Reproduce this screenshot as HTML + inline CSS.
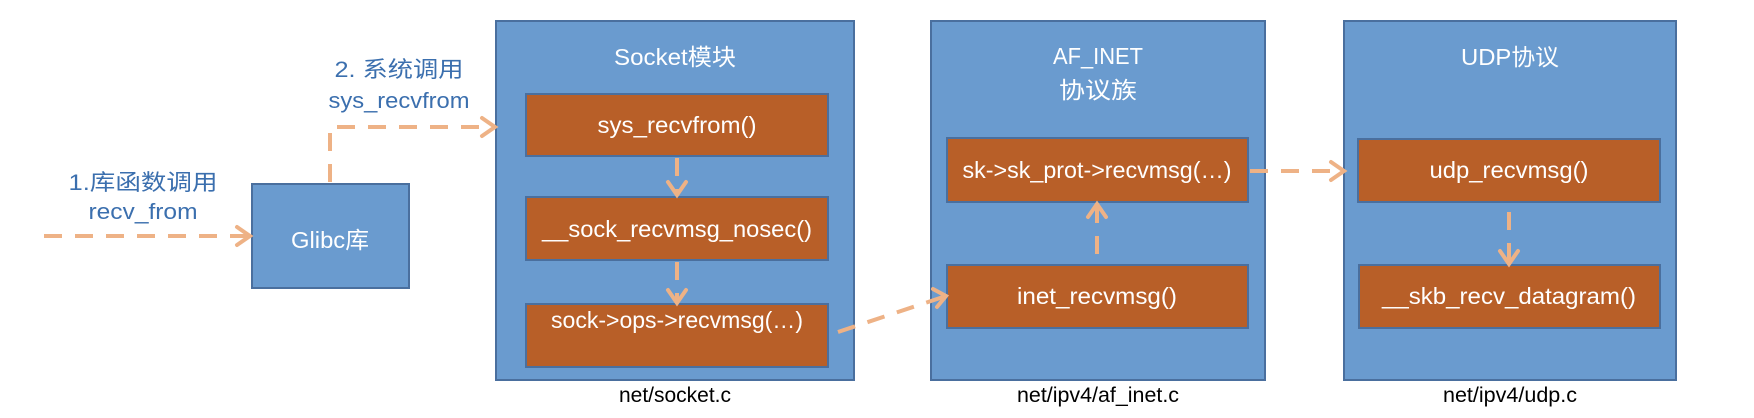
<!DOCTYPE html>
<html><head><meta charset="utf-8"><style>
html,body{margin:0;padding:0;background:#fff;width:1754px;height:418px;overflow:hidden}
text{font-family:"Liberation Sans","Noto Sans CJK SC",sans-serif}
</style></head><body>
<svg width="1754" height="418" viewBox="0 0 1754 418" xmlns="http://www.w3.org/2000/svg">
<g stroke="#4a6f9e" stroke-width="2">
<rect x="252" y="184" width="157" height="104" fill="#6a9bcf"/>
<rect x="496" y="21" width="358" height="359" fill="#6a9bcf"/>
<rect x="931" y="21" width="334" height="359" fill="#6a9bcf"/>
<rect x="1344" y="21" width="332" height="359" fill="#6a9bcf"/>
<g fill="#b85f28">
<rect x="526" y="94" width="302" height="62"/>
<rect x="526" y="197" width="302" height="63"/>
<rect x="526" y="304" width="302" height="63"/>
<rect x="947" y="138" width="301" height="64"/>
<rect x="947" y="265" width="301" height="63"/>
<rect x="1358" y="139" width="302" height="63"/>
<rect x="1359" y="265" width="301" height="63"/>
</g></g>
<g fill="none" stroke="#eeb286" stroke-width="4" stroke-dasharray="18,13">
<path d="M44 236 H248"/>
<path d="M330 182 V127 H492"/>
<path d="M677 158 V194"/>
<path d="M677 262 V300"/>
<path d="M838 332 L943 297"/>
<path d="M1097 254 V206"/>
<path d="M1250 171 H1340"/>
<path d="M1509 212 V262"/>
</g>
<g fill="none" stroke="#eeb286" stroke-width="4" stroke-linecap="round">
<path d="M237 227 L250 236 L237 245"/>
<path d="M482 118 L495 127 L482 136"/>
<path d="M668 182 L677 195 L686 182"/>
<path d="M668 290 L677 303 L686 290"/>
<path d="M933 289 L946 296 L937 307"/>
<path d="M1088 217 L1097 204 L1106 217"/>
<path d="M1331 162 L1344 171 L1331 180"/>
<path d="M1500 251 L1509 264 L1518 251"/>
</g>
<g fill="#3b6fae" font-size="22" text-anchor="middle" lengthAdjust="spacingAndGlyphs">
<text x="143" y="190" textLength="149" lengthAdjust="spacingAndGlyphs">1.库函数调用</text>
<text x="143" y="219" textLength="109" lengthAdjust="spacingAndGlyphs">recv_from</text>
<text x="399" y="77" textLength="129" lengthAdjust="spacingAndGlyphs">2. 系统调用</text>
<text x="399" y="108" textLength="141" lengthAdjust="spacingAndGlyphs">sys_recvfrom</text>
</g>
<g fill="#fff" font-size="23" text-anchor="middle">
<text x="330" y="248" textLength="78" lengthAdjust="spacingAndGlyphs">Glibc库</text>
<text x="675" y="65" textLength="122" lengthAdjust="spacingAndGlyphs">Socket模块</text>
<text x="1098" y="64" textLength="90" lengthAdjust="spacingAndGlyphs">AF_INET</text>
<text x="1098" y="98" textLength="78" lengthAdjust="spacingAndGlyphs">协议族</text>
<text x="1510" y="65" textLength="98" lengthAdjust="spacingAndGlyphs">UDP协议</text>
<text x="677" y="133" textLength="159" lengthAdjust="spacingAndGlyphs">sys_recvfrom()</text>
<text x="677" y="237" textLength="270" lengthAdjust="spacingAndGlyphs">__sock_recvmsg_nosec()</text>
<text x="677" y="328" textLength="252" lengthAdjust="spacingAndGlyphs">sock-&gt;ops-&gt;recvmsg(…)</text>
<text x="1097" y="178" textLength="269" lengthAdjust="spacingAndGlyphs">sk-&gt;sk_prot-&gt;recvmsg(…)</text>
<text x="1097" y="304" textLength="160" lengthAdjust="spacingAndGlyphs">inet_recvmsg()</text>
<text x="1509" y="178" textLength="159" lengthAdjust="spacingAndGlyphs">udp_recvmsg()</text>
<text x="1509" y="304" textLength="254" lengthAdjust="spacingAndGlyphs">__skb_recv_datagram()</text>
</g>
<g fill="#000" font-size="21" text-anchor="middle">
<text x="675" y="402" textLength="112" lengthAdjust="spacingAndGlyphs">net/socket.c</text>
<text x="1098" y="402" textLength="162" lengthAdjust="spacingAndGlyphs">net/ipv4/af_inet.c</text>
<text x="1510" y="402" textLength="134" lengthAdjust="spacingAndGlyphs">net/ipv4/udp.c</text>
</g>
</svg>
</body></html>
